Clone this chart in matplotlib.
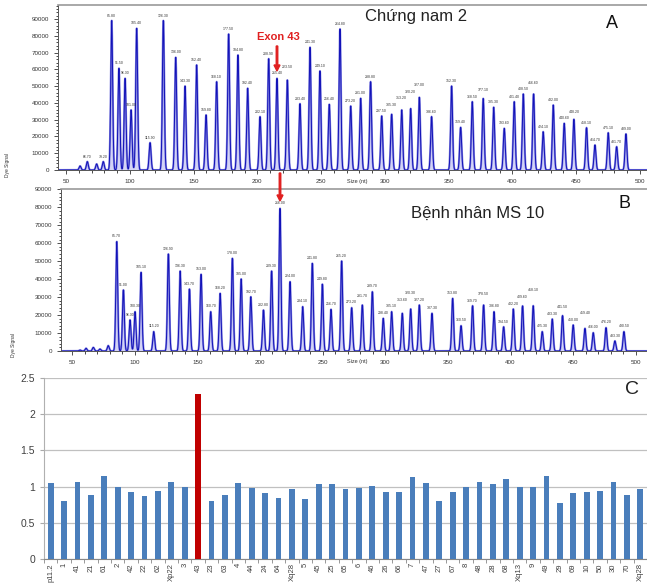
import numpy as np
import matplotlib
matplotlib.use("Agg")
import matplotlib.pyplot as plt
from matplotlib.ticker import MultipleLocator, FixedLocator

plt.rcParams['font.family'] = ['Liberation Sans', 'DejaVu Sans']

# Panel A - control male 2 (fragment size in nt, peak height)
a_size = [61.0, 66.7, 74.0, 79.2, 85.8, 91.5, 96.3, 101.0, 105.4, 115.9, 126.3, 136.0, 143.3, 152.4,
          159.8, 168.1, 177.5, 184.8, 192.4, 202.1, 208.9, 215.4, 223.5, 233.4, 241.3, 249.1, 256.4,
          264.8, 273.2, 281.0, 288.8, 297.5, 305.3, 313.2, 320.2, 327.0, 336.6, 352.3, 359.4, 368.5,
          377.1, 385.3, 393.6, 401.4, 408.5, 416.6, 424.1, 432.0, 440.6, 448.2, 458.1, 464.7, 475.1,
          481.7, 489.0]
a_height = [2400, 5000, 3600, 5000, 89000, 60600, 54600, 35800, 84400, 16300, 89000, 67100, 50000, 62600,
            32800, 52600, 81000, 68500, 48700, 31800, 66300, 54600, 53600, 39500, 73100, 59000, 39100,
            84000, 38100, 42700, 52600, 32200, 33200, 35800, 36600, 43300, 31800, 50000, 25400, 40700,
            42600, 37400, 24800, 40700, 45300, 45300, 22800, 38700, 27800, 30200, 25200, 14900, 22200,
            13900, 21500]

# Panel B - patient MS 10
b_size = [56.4, 61.2, 67.0, 72.3, 78.9, 85.7, 91.0, 96.3, 100.3, 105.1, 115.2, 126.9, 136.3, 143.7,
          153.0, 160.7, 168.2, 178.0, 185.0, 192.7, 202.8, 209.3, 216.0, 224.0, 234.1, 241.8, 249.8,
          256.7, 265.2, 273.2, 281.7, 289.7, 298.4, 305.1, 313.6, 320.3, 327.2, 337.3, 353.8, 360.5,
          369.7, 378.5, 386.8, 394.5, 402.2, 409.6, 418.1, 425.3, 433.3, 441.5, 450.0, 459.4, 466.0,
          476.2, 483.3, 490.5]
b_height = [500, 1500, 2000, 1100, 3000, 60900, 34000, 17300, 21900, 43800, 10800, 54000, 44500, 34500,
            42700, 21900, 32100, 51600, 40100, 30200, 22800, 44500, 79400, 38600, 24700, 48800, 37200,
            23200, 50100, 24100, 25600, 33000, 18200, 21900, 21000, 23400, 25600, 21000, 29300, 14100,
            25200, 25600, 21900, 13500, 23400, 25100, 25200, 10800, 17800, 19700, 14500, 12600, 10200,
            13000, 5600, 10800]

# Panel C - dosage ratio per probe
probes = ['p11.2', '1', '41', '21', '61', '2', '42', '22', '62', 'Xp22', '3', '43', '23', '63', '4',
          '44', '24', '64', 'Xq28', '5', '45', '25', '65', '6', '46', '26', '66', '7', '47', '27',
          '67', '8', '48', '28', '68', 'Xq13', '9', '49', '29', '69', '10', '50', '30', '70', 'Xq28']
ratio = [1.05, 0.80, 1.06, 0.88, 1.15, 0.99, 0.92, 0.87, 0.94, 1.06, 1.00, 2.28, 0.80, 0.89, 1.05,
         0.98, 0.91, 0.84, 0.96, 0.83, 1.03, 1.04, 0.97, 0.98, 1.01, 0.92, 0.92, 1.13, 1.05, 0.80,
         0.93, 1.00, 1.06, 1.03, 1.10, 1.00, 1.00, 1.14, 0.77, 0.91, 0.92, 0.94, 1.07, 0.88, 0.96]

W, H = 647, 584
fig = plt.figure(figsize=(W / 100, H / 100), dpi=100)


def box(l, t, r, b):
    # pixel box -> figure fraction
    return [l / W, 1 - b / H, (r - l) / W, (b - t) / H]


def fpos(x, y):
    return (x / W, 1 - y / H)


def draw_trace(ax, sizes, heights, sig, xlim, ytop):
    xs = np.arange(40, 512, 0.05)
    ys = np.zeros_like(xs)
    for s, h in zip(sizes, heights):
        ys += h * np.exp(-0.5 * ((xs - s) / sig) ** 2)
    ax.fill_between(xs, 0, ys, color='#d4d4f6', lw=0)
    ax.plot(xs, ys, color='#8a8ae2', lw=1.5)
    ax.plot(xs, ys, color='#1212b8', lw=0.7)
    # size labels above peaks, bumped up when they would collide with the previous one
    prev_s, prev_y = -100, -1e9
    for s, h in zip(sizes, heights):
        if h < 4000:
            continue
        y = h + 1800
        if s - prev_s < 10 and abs(y - prev_y) < 3500:
            y = prev_y + 3800
        ax.text(s, y, f"{s:.2f}", fontsize=2.5, ha='center', va='bottom', color='#333333')
        prev_s, prev_y = s, y
    ax.set_xlim(*xlim)
    ax.set_ylim(0, ytop)
    ax.xaxis.set_major_locator(MultipleLocator(50))
    ax.xaxis.set_minor_locator(MultipleLocator(10))
    ax.yaxis.set_major_locator(MultipleLocator(10000))
    ax.yaxis.set_minor_locator(MultipleLocator(2000))
    ax.tick_params(labelsize=4.5, length=3, width=0.6, colors='#333333')
    ax.tick_params(which='minor', length=1.8, width=0.5)
    ax.spines['right'].set_visible(False)
    ax.spines['top'].set_color('#999999')
    ax.spines['top'].set_linewidth(1.2)
    for sp in ['left', 'bottom']:
        ax.spines[sp].set_color('#555555')
        ax.spines[sp].set_linewidth(0.7)


# A
axA = fig.add_axes(box(58, 5, 647, 170))
draw_trace(axA, a_size, a_height, 0.75, (43.7, 505.5), 98300)
fig.text(*fpos(357, 182), 'Size (nt)', fontsize=4, ha='center', va='center', color='#333333')
fig.text(*fpos(7, 165), 'Dye Signal', fontsize=3.5, rotation=90, ha='center', va='center', color='#333333')
fig.text(*fpos(416, 17), 'Chứng nam 2', fontsize=12, ha='center', va='center', color='#222222')
fig.text(*fpos(612, 24), 'A', fontsize=13, ha='center', va='center', color='#111111')
fig.text(*fpos(278, 37), 'Exon 43', fontsize=8, fontweight='bold', ha='center', va='center', color='#e02020')
fig.patches.append(matplotlib.patches.FancyArrow(*fpos(277, 46), 0, -25 / H, width=1.5 / W,
                                                 head_width=6 / W, head_length=6 / H,
                                                 length_includes_head=True, color='#e02020',
                                                 transform=fig.transFigure, figure=fig))

# B
axB = fig.add_axes(box(61, 189, 647, 351))
draw_trace(axB, b_size, b_height, 0.75, (41.2, 508.9), 90200)
fig.text(*fpos(357, 362), 'Size (nt)', fontsize=4, ha='center', va='center', color='#333333')
fig.text(*fpos(13, 345), 'Dye Signal', fontsize=3.5, rotation=90, ha='center', va='center', color='#333333')
fig.text(*fpos(478, 213), 'Bệnh nhân MS 10', fontsize=12, ha='center', va='center', color='#222222')
fig.text(*fpos(625, 203), 'B', fontsize=13, ha='center', va='center', color='#111111')
fig.patches.append(matplotlib.patches.FancyArrow(*fpos(280, 173), 0, -28 / H, width=1.5 / W,
                                                 head_width=6 / W, head_length=6 / H,
                                                 length_includes_head=True, color='#e02020',
                                                 transform=fig.transFigure, figure=fig))

# C
axC = fig.add_axes(box(44, 378, 647, 559))
colors = ['#c00000' if p == '43' else '#4a7ebb' for p in probes]
axC.bar(range(len(probes)), ratio, width=0.44, color=colors, zorder=3)
axC.set_xlim(-0.5, len(probes) - 0.5)
axC.set_ylim(0, 2.5)
axC.set_yticks([0, 0.5, 1, 1.5, 2, 2.5])
axC.set_yticklabels(['0', '0.5', '1', '1.5', '2', '2.5'])
axC.yaxis.grid(True, color='#c0c0c0', lw=0.9)
axC.set_axisbelow(True)
axC.set_xticks(range(len(probes)))
axC.set_xticklabels(probes, rotation=90, fontsize=5.5, color='#404040')
axC.xaxis.set_minor_locator(FixedLocator(np.arange(-0.5, len(probes), 1)))
axC.tick_params(axis='x', which='major', length=0, pad=3)
axC.tick_params(axis='x', which='minor', length=3, color='#888888')
axC.tick_params(axis='y', labelsize=7.5, labelcolor='#404040', length=3, color='#aaaaaa')
for sp in ['top', 'right']:
    axC.spines[sp].set_visible(False)
axC.spines['left'].set_color('#b0b0b0')
axC.spines['bottom'].set_color('#888888')
fig.text(*fpos(632, 390), 'C', fontsize=14, ha='center', va='center', color='#222222')

fig.savefig('out.png', dpi=100)
